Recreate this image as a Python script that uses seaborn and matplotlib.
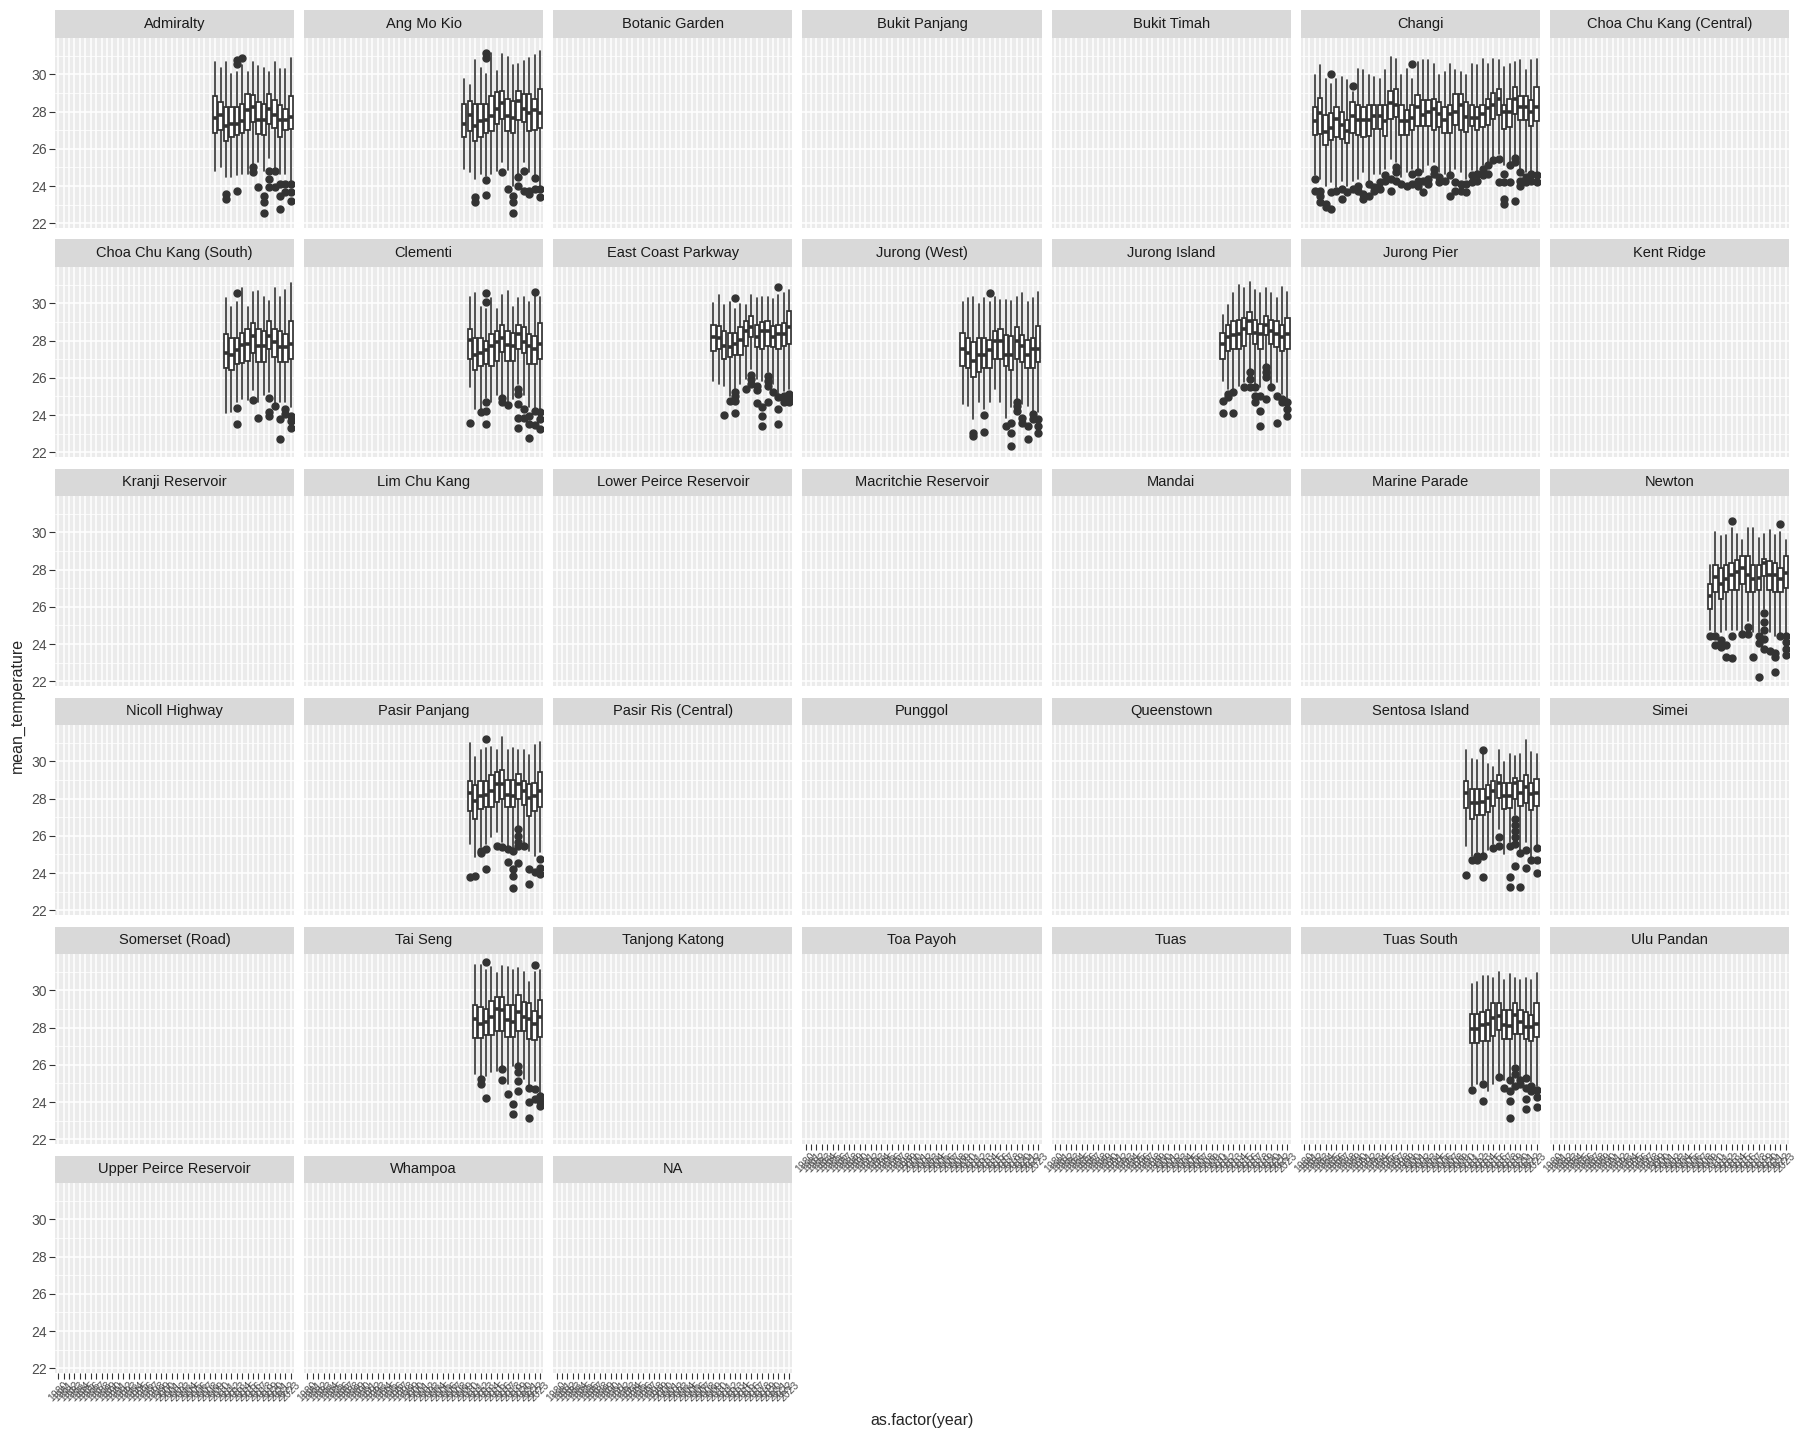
import matplotlib
matplotlib.use('Agg')
import matplotlib.pyplot as plt
from matplotlib.patches import Rectangle
import pandas as pd
import seaborn as sns

years = list(range(1980, 2024))

stations = ['Admiralty', 'Ang Mo Kio', 'Botanic Garden', 'Bukit Panjang', 'Bukit Timah', 'Changi',
            'Choa Chu Kang (Central)', 'Choa Chu Kang (South)', 'Clementi', 'East Coast Parkway',
            'Jurong (West)', 'Jurong Island', 'Jurong Pier', 'Kent Ridge', 'Kranji Reservoir',
            'Lim Chu Kang', 'Lower Peirce Reservoir', 'Macritchie Reservoir', 'Mandai', 'Marine Parade',
            'Newton', 'Nicoll Highway', 'Pasir Panjang', 'Pasir Ris (Central)', 'Punggol', 'Queenstown',
            'Sentosa Island', 'Simei', 'Somerset (Road)', 'Tai Seng', 'Tanjong Katong', 'Toa Payoh',
            'Tuas', 'Tuas South', 'Ulu Pandan', 'Upper Peirce Reservoir', 'Whampoa', 'NA']

# each box: (upper whisker, q3, median, q1, lower whisker), one per year from the start year
admiralty_start = 2009
admiralty_box = [(30.64, 28.84, 27.65, 26.85, 24.83), (30.35, 28.51, 27.79, 26.99, 25.04),
                 (30.64, 28.24, 27.22, 26.41, 24.47), (30.04, 28.24, 27.35, 26.63, 24.47),
                 (30.13, 28.24, 27.35, 26.72, 24.6), (30.49, 28.41, 27.47, 26.85, 24.65),
                 (30.13, 28.95, 28.06, 26.99, 24.65), (30.64, 28.88, 28.24, 27.43, 25.19),
                 (30.46, 28.51, 27.56, 26.81, 25.31), (30.35, 28.41, 27.56, 26.72, 24.83),
                 (30.13, 28.95, 28.15, 27.35, 25.49), (30.64, 28.64, 27.83, 27.11, 24.92),
                 (30.28, 28.37, 27.56, 26.63, 24.65), (30.28, 28.15, 27.56, 27.02, 24.65),
                 (30.85, 28.84, 27.7, 27.07, 24.29)]
admiralty_out = [[], [], [23.57, 23.3], [], [30.76, 30.58, 23.71], [30.89], [], [25.0, 24.74], [23.96],
                 [23.48, 23.12, 22.58], [24.83, 24.38, 23.93], [24.83, 23.93], [24.11, 23.48, 22.76],
                 [24.11, 23.66], [24.11, 23.66, 23.21]]

amk_start = 2009
amk_box = [(29.77, 28.41, 27.35, 26.63, 24.92), (29.41, 28.59, 27.83, 26.97, 24.78),
           (30.76, 28.41, 27.22, 26.41, 24.38), (30.35, 28.41, 27.47, 26.63, 24.65),
           (30.04, 28.41, 27.56, 26.85, 24.56), (31.17, 28.84, 27.74, 26.97, 24.65),
           (30.17, 29.06, 28.15, 27.32, 24.83), (31.07, 29.11, 28.46, 27.61, 25.28),
           (30.94, 28.69, 27.74, 26.97, 24.88), (30.49, 28.59, 27.65, 26.85, 24.02),
           (30.53, 29.11, 28.59, 27.56, 24.65), (30.74, 28.95, 28.15, 27.43, 25.28),
           (30.85, 28.95, 27.94, 26.97, 24.74), (31.03, 28.69, 28.06, 27.02, 24.56),
           (31.24, 29.23, 27.94, 27.11, 24.02)]
amk_out = [[], [], [23.39, 23.12], [], [31.12, 30.85, 24.34, 23.53], [], [], [24.74], [23.84],
           [23.48, 23.12, 22.58], [24.5, 24.02], [24.83, 23.75], [23.75, 23.57], [24.41, 23.87],
           [23.87, 23.44]]

changi_start = 1982
changi_box = [(29.95, 28.24, 27.47, 26.72, 24.57), (30.48, 28.75, 27.94, 26.81, 24.39),
              (29.77, 27.8, 26.9, 26.18, 24.03), (29.5, 27.94, 27.11, 26.45, 24.21),
              (29.77, 28.24, 27.6, 26.63, 23.94), (29.86, 28.0, 27.26, 26.54, 24.3),
              (29.68, 27.53, 26.95, 26.33, 24.03), (29.05, 28.5, 27.76, 26.86, 24.3),
              (30.3, 28.33, 27.53, 26.72, 24.39), (30.22, 28.24, 27.53, 26.63, 24.75),
              (29.95, 28.33, 27.53, 26.68, 24.3), (29.86, 28.37, 27.74, 27.04, 24.66),
              (29.77, 28.37, 27.74, 27.04, 24.66), (30.22, 28.37, 27.47, 26.68, 24.93),
              (30.93, 29.1, 28.46, 27.6, 25.47), (30.84, 29.23, 28.37, 27.7, 25.29),
              (29.95, 28.33, 27.47, 26.76, 24.48), (30.3, 28.06, 27.47, 26.72, 24.75),
              (29.77, 28.37, 27.65, 26.99, 24.93), (30.66, 28.9, 28.24, 27.22, 24.93),
              (30.75, 28.6, 27.8, 27.22, 24.75), (30.75, 28.6, 27.98, 27.22, 25.11),
              (30.57, 28.7, 28.15, 26.99, 25.29), (29.95, 28.5, 27.89, 27.17, 24.75),
              (30.13, 28.24, 27.53, 26.86, 24.66), (30.57, 28.37, 27.89, 26.86, 24.66),
              (30.22, 28.96, 27.98, 27.26, 24.93), (30.13, 28.96, 28.33, 26.99, 24.75),
              (29.95, 28.5, 27.7, 26.9, 24.39), (30.57, 28.37, 27.65, 27.22, 24.84),
              (30.48, 28.24, 27.65, 26.99, 24.75), (30.84, 28.33, 27.89, 27.17, 25.11),
              (30.57, 28.7, 28.19, 27.26, 25.29), (30.84, 29.0, 28.37, 27.6, 25.56),
              (30.75, 29.23, 28.69, 27.8, 25.73), (30.39, 28.37, 27.98, 27.08, 25.11),
              (30.57, 28.7, 27.98, 27.17, 25.29), (30.66, 29.32, 28.69, 27.89, 25.65),
              (30.75, 28.83, 28.24, 27.53, 24.93), (30.22, 28.83, 28.24, 27.53, 24.75),
              (30.75, 28.6, 27.98, 27.22, 24.75), (30.84, 29.32, 28.24, 27.47, 24.66)]
changi_out = [[24.39, 23.76], [23.76, 23.49, 23.14], [23.05, 22.87], [30.04, 23.67, 22.78], [23.76],
              [23.85, 23.32], [23.67], [29.37, 23.85], [24.03, 23.76], [23.58, 23.32], [24.12, 23.49],
              [23.94, 23.76], [24.21, 23.85], [24.57, 24.3], [24.39, 23.76], [25.02, 24.75, 24.3],
              [24.12], [24.03], [30.57, 24.66, 24.12], [24.75, 24.3, 24.03], [24.3, 23.67],
              [24.39, 24.12], [24.93, 24.66], [24.48, 24.21], [24.3], [24.57, 23.49], [24.21, 23.76],
              [24.12, 23.76], [24.12, 23.67], [24.57, 24.21], [24.66, 24.3], [24.93, 24.57],
              [25.11, 24.66], [25.38], [25.47, 24.21], [24.66, 24.21, 23.32, 23.05], [25.11, 24.21],
              [25.5, 25.3, 23.2], [24.75, 24.3, 24.03], [24.48, 24.21], [24.66, 24.3], [24.57, 24.21]]

ccks_start = 2011
ccks_box = [(30.26, 28.35, 27.33, 26.51, 24.1), (29.81, 28.14, 27.24, 26.43, 24.14),
            (30.08, 28.14, 27.47, 26.72, 24.7), (30.83, 28.4, 27.74, 26.79, 24.87),
            (29.81, 28.6, 27.81, 26.93, 24.81), (30.62, 28.94, 28.26, 27.33, 25.35),
            (30.65, 28.6, 27.69, 26.84, 24.7), (30.35, 28.53, 27.69, 26.84, 25.06),
            (30.13, 29.05, 28.26, 27.56, 25.23), (30.83, 28.6, 27.95, 27.11, 24.63),
            (30.35, 28.49, 27.65, 26.84, 24.7), (30.71, 28.35, 27.65, 26.84, 24.7),
            (31.07, 29.05, 27.81, 27.02, 24.42)]
ccks_out = [[], [], [30.53, 24.36, 23.51], [], [], [24.83], [23.84], [], [24.9, 24.14, 23.96], [24.47],
            [23.78, 22.7], [24.33, 24.06], [23.96, 23.69, 23.33]]

clementi_start = 2010
clementi_box = [(30.35, 28.6, 28.04, 27.02, 25.49), (30.53, 28.14, 27.24, 26.43, 24.33),
                (29.81, 28.14, 27.33, 26.63, 24.33), (29.72, 28.0, 27.47, 26.75, 24.9),
                (30.26, 28.35, 27.69, 26.63, 24.7), (29.69, 28.53, 27.95, 26.93, 25.06),
                (30.47, 28.82, 28.13, 27.38, 25.0), (30.65, 28.53, 27.74, 26.93, 24.7),
                (29.81, 28.4, 27.69, 26.88, 24.87), (30.26, 28.82, 28.35, 27.56, 25.67),
                (30.35, 28.71, 27.95, 27.33, 25.06), (30.08, 28.35, 27.69, 26.72, 24.42),
                (30.44, 28.22, 27.56, 26.72, 24.33), (30.35, 28.94, 27.81, 27.02, 24.33)]
clementi_out = [[23.57], [], [24.18], [30.53, 30.08, 24.68, 24.23, 23.51], [], [], [24.9, 24.68],
                [24.54], [], [25.4, 25.13, 24.6, 23.87, 23.33], [24.33, 23.87], [23.96, 23.51, 22.79],
                [30.62, 24.23, 23.49], [24.14, 23.78, 23.24]]

ecp_start = 2009
ecp_box = [(30.03, 28.82, 28.17, 27.45, 25.85), (30.47, 28.77, 28.14, 27.56, 25.67),
           (29.9, 28.5, 27.69, 27.02, 25.58), (30.08, 28.41, 27.63, 27.11, 25.04),
           (29.72, 28.41, 27.81, 27.24, 25.4), (29.99, 28.71, 28.05, 27.24, 25.67),
           (29.9, 29.04, 28.53, 27.72, 25.94), (30.44, 29.31, 28.71, 28.17, 26.48),
           (30.26, 28.82, 28.17, 27.63, 25.94), (30.35, 29.0, 28.53, 27.56, 25.85),
           (30.35, 29.04, 28.53, 27.72, 26.3), (30.22, 28.77, 28.17, 27.63, 25.67),
           (30.44, 28.82, 28.35, 27.54, 25.13), (30.53, 28.95, 28.35, 27.72, 25.31),
           (30.71, 29.58, 28.71, 27.81, 25.4)]
ecp_out = [[], [], [24.02], [24.77], [30.31, 25.26, 25.04, 24.74, 24.11], [], [25.4], [26.16, 25.94, 25.67],
           [25.58, 25.37, 24.65], [24.41, 23.96, 23.42], [26.12, 25.85, 25.58, 24.72], [25.22],
           [30.85, 24.95, 24.33, 23.51], [25.04, 24.86, 24.68], [25.13, 24.95, 24.68]]

jw_start = 2009
jw_box = [(30.08, 28.41, 27.54, 26.63, 24.59), (30.26, 28.14, 27.33, 26.54, 24.5),
          (30.35, 27.9, 26.93, 26.03, 23.78), (29.94, 28.14, 27.24, 26.3, 24.68),
          (30.3, 28.14, 27.24, 26.54, 24.33), (30.08, 28.05, 27.47, 26.54, 24.68),
          (30.35, 28.5, 27.96, 27.02, 25.4), (30.17, 28.64, 27.96, 27.02, 24.68),
          (30.17, 28.32, 27.24, 26.63, 23.87), (30.12, 28.23, 27.24, 26.43, 24.41),
          (30.35, 28.71, 27.96, 27.02, 24.77), (30.53, 28.32, 27.69, 26.84, 24.59),
          (30.08, 28.05, 27.24, 26.54, 24.5), (30.26, 28.14, 27.54, 26.54, 24.24),
          (30.62, 28.77, 27.54, 26.84, 24.14)]
jw_out = [[], [], [23.06, 22.88], [], [24.02, 23.11], [30.53], [], [], [23.42], [23.6, 23.06, 22.34],
          [24.68, 24.5, 24.24], [23.87, 23.6], [23.42, 22.7], [24.05, 23.78], [23.78, 23.42, 23.06]]

ji_start = 2011
ji_box = [(29.36, 28.41, 27.81, 27.02, 25.85), (29.9, 28.82, 28.17, 27.45, 25.4),
          (30.53, 29.04, 28.28, 27.56, 25.4), (30.98, 29.13, 28.35, 27.54, 25.58),
          (30.8, 29.22, 28.64, 27.72, 25.76), (31.16, 29.54, 29.04, 28.35, 26.48),
          (30.71, 29.09, 28.41, 27.81, 25.67), (30.53, 28.91, 28.35, 27.54, 25.49),
          (30.83, 29.31, 28.82, 28.28, 26.75), (30.53, 29.13, 28.53, 27.81, 25.67),
          (30.29, 29.04, 28.35, 27.63, 25.76), (30.89, 28.82, 28.17, 27.45, 25.13),
          (30.62, 29.22, 28.35, 27.54, 24.86)]
ji_out = [[24.77, 24.11], [25.13, 24.95], [25.22, 24.11], [], [25.49], [26.3, 25.94, 25.49],
          [25.49, 25.04, 24.68], [25.04, 24.24, 23.42], [26.57, 26.3, 26.03, 24.86], [25.49],
          [25.04, 23.6], [24.86, 24.68], [24.68, 24.33, 23.96]]

newton_start = 2009
newton_box = [(28.22, 27.21, 26.59, 25.87, 24.75), (30.0, 28.22, 27.6, 26.77, 24.64),
              (29.79, 28.11, 27.21, 26.43, 24.64), (29.86, 28.26, 27.48, 26.77, 24.75),
              (30.24, 28.33, 27.71, 26.88, 24.75), (29.9, 28.49, 27.89, 26.93, 24.75),
              (29.61, 28.71, 28.11, 27.21, 24.64), (30.24, 28.71, 27.71, 26.77, 25.25),
              (30.24, 28.26, 27.48, 26.77, 24.64), (29.72, 28.26, 27.55, 26.93, 24.64),
              (29.9, 28.56, 28.33, 27.66, 25.87), (30.12, 28.44, 27.71, 26.88, 24.64),
              (29.86, 28.33, 27.71, 26.77, 24.42), (30.0, 28.11, 27.48, 26.77, 24.53),
              (29.57, 28.71, 27.82, 26.99, 24.53)]
newton_out = [[24.42], [24.42, 23.97], [24.2, 23.86], [23.97, 23.3], [30.62, 24.42, 23.23], [], [24.53],
              [24.9, 24.53], [23.3], [24.42, 24.08, 22.25], [25.65, 25.2, 24.75, 24.3, 23.75], [23.64],
              [23.52, 23.3, 22.52], [30.46, 24.42], [24.42, 24.1, 23.75, 23.4]]

pp_start = 2010
pp_box = [(30.96, 28.95, 28.3, 27.36, 25.56), (30.24, 28.71, 27.85, 26.91, 24.85),
          (30.6, 28.95, 28.14, 27.45, 25.38), (30.69, 28.95, 28.21, 27.54, 25.56),
          (30.78, 29.25, 28.39, 27.54, 25.92), (30.6, 29.43, 28.78, 27.81, 26.19),
          (31.32, 29.56, 28.78, 27.99, 25.65), (30.6, 29.02, 28.21, 27.54, 25.38),
          (30.69, 29.02, 28.14, 27.54, 25.29), (30.6, 29.34, 28.78, 27.99, 26.46),
          (30.6, 28.95, 28.39, 27.63, 25.56), (30.33, 28.8, 28.03, 27.09, 25.2),
          (30.87, 28.84, 28.14, 27.36, 24.94), (31.05, 29.43, 28.39, 27.54, 25.11)]
pp_out = [[23.77], [23.86], [25.2, 25.1], [31.2, 25.3, 24.2], [], [25.44], [25.38], [25.3, 24.58],
          [25.2, 24.22, 23.86, 23.22], [26.37, 26.0, 25.65, 25.47, 24.54], [25.47], [24.22, 23.41],
          [24.04], [24.76, 24.3, 23.95]]

sentosa_start = 2010
sentosa_box = [(30.61, 28.94, 28.31, 27.48, 25.47), (30.12, 28.49, 27.75, 26.92, 24.91),
               (30.06, 28.49, 27.75, 27.14, 25.13), (30.39, 28.49, 27.82, 27.14, 25.02),
               (29.83, 28.71, 28.04, 27.26, 25.24), (29.67, 28.94, 28.42, 27.59, 25.58),
               (30.61, 29.27, 28.82, 28.04, 26.36), (29.94, 28.82, 28.15, 27.43, 25.02),
               (30.39, 28.82, 28.15, 27.52, 25.69), (30.28, 29.09, 28.82, 27.97, 27.14),
               (30.39, 28.94, 28.31, 27.59, 25.24), (31.17, 29.27, 28.64, 27.75, 25.69),
               (30.5, 28.82, 28.26, 27.37, 24.8), (30.39, 29.05, 28.31, 27.59, 25.41)]
sentosa_out = [[23.9], [24.69], [24.91, 24.69], [30.61, 24.9, 23.79], [], [25.36], [25.92, 25.47], [],
               [25.47, 23.79, 23.23], [26.92, 26.59, 26.25, 25.92, 25.58, 24.39], [25.07, 23.28],
               [25.24, 24.3], [24.69], [25.36, 24.69, 24.02]]

taiseng_start = 2011
taiseng_box = [(31.36, 29.2, 28.48, 27.45, 25.51), (31.36, 29.11, 28.21, 27.44, 25.33),
               (31.09, 29.02, 28.3, 27.58, 25.42), (31.27, 29.41, 28.57, 27.61, 25.6),
               (30.91, 29.64, 29.01, 27.84, 25.69), (31.3, 29.64, 28.93, 27.84, 25.96),
               (31.27, 29.23, 28.39, 27.49, 24.97), (31.09, 29.2, 28.3, 27.49, 25.96),
               (31.18, 29.74, 28.84, 27.84, 26.05), (31.0, 29.38, 28.57, 27.84, 25.24),
               (30.46, 29.32, 28.48, 27.4, 24.88), (31.0, 28.88, 28.21, 27.35, 25.15),
               (31.09, 29.5, 28.57, 27.49, 24.43)]
taiseng_out = [[], [25.24, 24.97], [31.54, 24.2], [], [], [25.8, 25.18], [24.43], [23.89, 23.35],
               [25.96, 25.6, 25.15, 24.61], [], [24.74, 23.98, 23.17], [31.36, 24.7, 24.16],
               [24.34, 24.07, 23.8]]

tuass_start = 2011
tuass_box = [(30.32, 28.75, 27.9, 27.18, 24.84), (30.43, 28.75, 27.9, 27.18, 24.95),
             (30.77, 28.82, 28.12, 27.29, 25.17), (30.77, 28.97, 28.19, 27.29, 24.61),
             (30.66, 29.31, 28.53, 27.57, 24.95), (30.99, 29.31, 28.64, 27.86, 25.51),
             (30.54, 28.97, 28.15, 27.41, 25.17), (30.88, 28.97, 28.08, 27.41, 25.28),
             (30.66, 29.31, 28.69, 27.63, 26.06), (30.54, 28.97, 28.3, 27.63, 25.28),
             (30.66, 28.82, 28.01, 27.41, 25.39), (30.54, 28.68, 28.01, 27.29, 25.06),
             (30.92, 29.31, 28.19, 27.52, 24.84)]
tuass_out = [[24.66], [], [24.95, 24.05], [], [], [25.33], [24.73], [25.17, 24.61, 24.05, 23.16],
             [25.85, 25.51, 24.84], [25.17, 24.95], [25.28, 24.73, 24.17, 23.61], [24.84, 24.61],
             [24.66, 24.28, 23.72]]

series = [('Admiralty', admiralty_start, admiralty_box, admiralty_out),
          ('Ang Mo Kio', amk_start, amk_box, amk_out),
          ('Changi', changi_start, changi_box, changi_out),
          ('Choa Chu Kang (South)', ccks_start, ccks_box, ccks_out),
          ('Clementi', clementi_start, clementi_box, clementi_out),
          ('East Coast Parkway', ecp_start, ecp_box, ecp_out),
          ('Jurong (West)', jw_start, jw_box, jw_out),
          ('Jurong Island', ji_start, ji_box, ji_out),
          ('Newton', newton_start, newton_box, newton_out),
          ('Pasir Panjang', pp_start, pp_box, pp_out),
          ('Sentosa Island', sentosa_start, sentosa_box, sentosa_out),
          ('Tai Seng', taiseng_start, taiseng_box, taiseng_out),
          ('Tuas South', tuass_start, tuass_box, tuass_out)]

rows = []
for name, start, boxes, outs in series:
    for k, (hi, q3, med, q1, lo) in enumerate(boxes):
        rows.append({'station': name, 'year': start + k, 'hi': hi, 'q3': q3,
                     'med': med, 'q1': q1, 'lo': lo, 'out': outs[k]})
df = pd.DataFrame(rows)

INK = '#333333'


def draw_boxes(data, color=None, **kws):
    ax = plt.gca()
    stats = []
    for _, r in data.iterrows():
        stats.append({'whishi': r['hi'], 'q3': r['q3'], 'med': r['med'], 'q1': r['q1'],
                      'whislo': r['lo'], 'fliers': r['out']})
    pos = [years.index(y) for y in data['year']]
    ax.bxp(stats, positions=pos, widths=0.8, patch_artist=True, showcaps=False, manage_ticks=False,
           boxprops=dict(facecolor='white', edgecolor=INK, linewidth=1.25),
           medianprops=dict(color=INK, linewidth=2.6, solid_capstyle='butt'),
           whiskerprops=dict(color=INK, linewidth=1.2),
           flierprops=dict(marker='o', markerfacecolor=INK, markeredgecolor=INK, markersize=5))


sns.set_theme(style='darkgrid', rc={'axes.facecolor': '#EBEBEB', 'grid.color': 'white',
                                    'figure.facecolor': 'white'})
plt.rcParams['font.family'] = ['Liberation Sans', 'DejaVu Sans']

g = sns.FacetGrid(df, col='station', col_order=stations, col_wrap=7, sharex=True, sharey=True,
                  height=2.0, aspect=1.25, despine=False)
g.map_dataframe(draw_boxes)
g.set_titles('')
g.set_axis_labels('', '')

fig = g.figure
fig.set_size_inches(18, 14.4)
fig.subplots_adjust(left=55 / 1800, right=1789 / 1800, top=1 - 38 / 1440, bottom=1 - 1373 / 1440,
                    wspace=10 / 239, hspace=39 / 190)

axes = list(g.axes.flat)
axes[0].set_xticks(range(len(years)))
axes[0].set_xticklabels([str(y) for y in years])
axes[0].set_xlim(-0.6, len(years) - 0.4)
axes[0].set_ylim(21.75, 31.95)
axes[0].set_yticks([22, 24, 26, 28, 30])
axes[0].set_yticks([23, 25, 27, 29, 31], minor=True)

strip_h = 27.5 / 190
for i, ax in enumerate(axes):
    ax.grid(which='major', color='white', linewidth=1.1)
    ax.grid(which='minor', axis='y', color='white', linewidth=0.55)
    ax.grid(which='minor', axis='x', visible=False)
    for s in ax.spines.values():
        s.set_visible(False)
    bottom = i >= 31
    left = i % 7 == 0
    ax.tick_params(axis='x', which='major', bottom=bottom, labelbottom=bottom, length=4, width=0.8,
                   color=INK, labelcolor='#4D4D4D', labelsize=7.5, labelrotation=45, pad=1)
    ax.tick_params(axis='y', which='major', left=left, labelleft=left, length=4, width=0.8,
                   color=INK, labelcolor='#4D4D4D', labelsize=10, pad=2)
    ax.tick_params(axis='both', which='minor', length=0)
    ax.add_patch(Rectangle((0, 1), 1, strip_h, transform=ax.transAxes, clip_on=False,
                           facecolor='#D9D9D9', edgecolor='none'))
    ax.text(0.5, 1 + strip_h / 2, stations[i], transform=ax.transAxes, ha='center', va='center',
            fontsize=10.5, color='#1A1A1A')

fig.text(922 / 1800, 1 - 1420 / 1440, 'as.factor(year)', ha='center', va='center', fontsize=11.5)
fig.text(17 / 1800, 1 - 705 / 1440, 'mean_temperature', ha='center', va='center', rotation=90,
         fontsize=11.5)

fig.savefig('out.png', dpi=100)
